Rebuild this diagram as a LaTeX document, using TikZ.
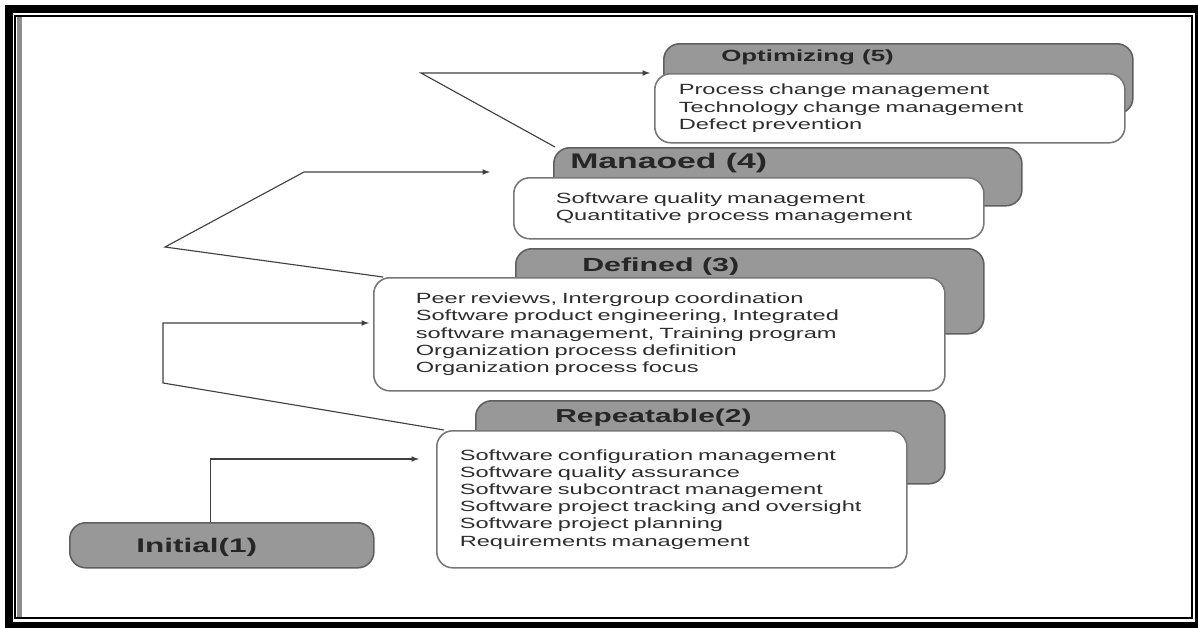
\documentclass[tikz,border=0pt]{standalone}
\usepackage{fontspec}
\newfontfamily\boxfont{Liberation Sans}[FakeStretch=1.6]
\definecolor{hdrgray}{RGB}{152,152,152}
\definecolor{edgegray}{RGB}{95,95,95}
\definecolor{txtgray}{RGB}{45,45,45}
\begin{document}
\begin{tikzpicture}[x=0.025cm, y=-0.025cm,
    hdrbox/.style={draw=edgegray, fill=hdrgray, line width=1.1pt, rounded corners=0.4cm, anchor=north west, inner sep=0pt},
    bodybox/.style={draw=edgegray!85, fill=white, line width=1.1pt, rounded corners=0.4cm, anchor=north west, align=left,
      inner ysep=0pt, text=txtgray, font=\boxfont\fontsize{10.5}{12.2}\selectfont},
    title/.style={anchor=west, inner sep=0pt, text=black!85, font=\boxfont\bfseries},
    conn/.style={draw=black!75, line width=0.8pt}]
        % Frame %
        \useasboundingbox (0,0) rectangle (1198,627);
        \fill[white] (0,0) rectangle (1198,627);
        \draw[line width=0.2cm] (9,9) rectangle (1199,626);
        \draw[line width=1.2pt] (15,16) rectangle (1192,618);
        \fill[black!45] (17,17) rectangle (22,617);
        % Optimizing %
        \node[hdrbox, minimum width=11.725cm, minimum height=1.75cm] (opt) at (663,43) {};
        \node[title, font=\boxfont\bfseries\fontsize{11.5}{12}\selectfont] (opttitle) at (721,57) {Optimizing (5)};
        \node[bodybox, minimum width=11.75cm, minimum height=1.725cm, text width=10.55cm, inner xsep=0.6cm] (optbody) at (654,73)
          {Process change management\\Technology change management\\Defect prevention};
        % Managed %
        \node[hdrbox, minimum width=11.7cm, minimum height=1.45cm] (man) at (553,147) {};
        \node[title, font=\boxfont\bfseries\fontsize{15}{16}\selectfont] (mantitle) at (570,163) {Manaoed (4)};
        \node[bodybox, minimum width=11.75cm, minimum height=1.525cm, text width=9.65cm, inner xsep=1.05cm] (manbody) at (513,177)
          {Software quality management\\Quantitative process management};
        % Defined %
        \node[hdrbox, minimum width=11.7cm, minimum height=2.125cm] (def) at (515,248) {};
        \node[title, font=\boxfont\bfseries\fontsize{13.5}{14}\selectfont] (deftitle) at (582,267) {Defined (3)};
        \node[bodybox, minimum width=14.275cm, minimum height=2.825cm, text width=12.175cm, inner xsep=1.05cm] (defbody) at (373,277)
          {Peer reviews, Intergroup coordination\\Software product engineering, Integrated\\software management, Training program\\Organization process definition\\Organization process focus\\[0.15cm]};
        % Repeatable %
        \node[hdrbox, minimum width=11.725cm, minimum height=2.075cm] (rep) at (475,400) {};
        \node[title, font=\boxfont\bfseries\fontsize{13.3}{14}\selectfont] (reptitle) at (555,418) {Repeatable(2)};
        \node[bodybox, minimum width=11.75cm, minimum height=3.425cm, text width=10.6cm, inner xsep=0.575cm] (repbody) at (436,430)
          {Software configuration management\\Software quality assurance\\Software subcontract management\\Software project tracking and oversight\\Software project planning\\Requirements management};
        % Initial %
        \node[hdrbox, minimum width=7.6cm, minimum height=1.125cm] (init) at (69,522) {};
        \node[title, font=\boxfont\bfseries\fontsize{14}{15}\selectfont] (inittitle) at (136,547) {Initial(1)};
        % Arrows %
        \coordinate (a1) at (419,459);
        \coordinate (b1) at (163,383);
        \coordinate (b2) at (163,323);
        \coordinate (a2) at (369,323);
        \coordinate (c1) at (165,247);
        \coordinate (c2) at (304,172);
        \coordinate (a3) at (490,172);
        \coordinate (d1) at (421,73);
        \coordinate (a4) at (650,73);
        \draw[conn, -latex] ([xshift=-0.275cm]init.north) |- (a1);
        \draw[conn, -latex] ([xshift=0.2cm]repbody.north west) -- (b1) -- (b2) -- (a2);
        \draw[conn, -latex] ([xshift=0.25cm]defbody.north west) -- (c1) -- (c2) -- (a3);
        \draw[conn, -latex] ([xshift=0.05cm]man.north west) -- (d1) -- (a4);

      \end{tikzpicture}
\end{document}
